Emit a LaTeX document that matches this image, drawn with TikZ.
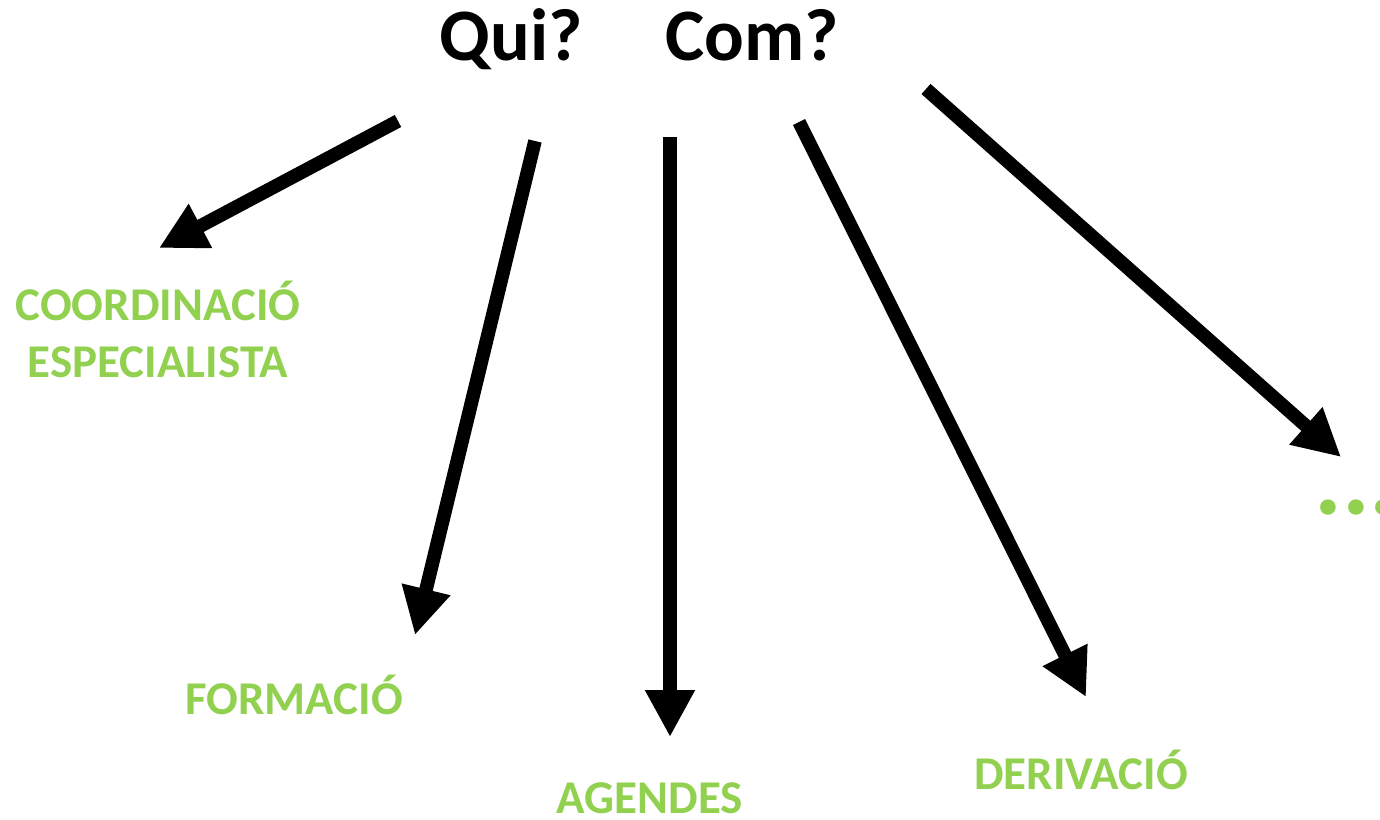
\documentclass[tikz,border=0pt]{standalone}
\usepackage{fontspec}
\setmainfont{Carlito}
\usetikzlibrary{arrows.meta}
\definecolor{leaf}{HTML}{92D050}
\definecolor{ink}{HTML}{000000}

\begin{document}
\begin{tikzpicture}[x=0.5pt,y=-0.5pt,
    question/.style={font=\bfseries\fontsize{37}{40}\selectfont, text=ink, inner sep=0pt},
    topic/.style={font=\bfseries\fontsize{23.5}{28.5}\selectfont, text=leaf, inner sep=0pt, align=center},
    branch/.style={ink, line width=6.8pt, -{Triangle[length=23.5pt,width=23.5pt]}}]
      \useasboundingbox (0,0) rectangle (1380,819);
      % questions
      \node[question, anchor=base] (qui) at (511,60) {Qui?};
      \node[question, anchor=base] (com) at (752,60) {Com?};
      % arrow ends
      \coordinate (t1) at (398,121);  \coordinate (h1) at (159,248);
      \coordinate (t2) at (535,141);  \coordinate (h2) at (415,635);
      \coordinate (t3) at (670,137);  \coordinate (h3) at (670,737);
      \coordinate (t4) at (799,122);  \coordinate (h4) at (1086,697);
      \coordinate (t5) at (926,89);   \coordinate (h5) at (1341,457);
      \draw[branch] (t1) -- (h1);
      \draw[branch] (t2) -- (h2);
      \draw[branch] (t3) -- (h3);
      \draw[branch] (t4) -- (h4);
      \draw[branch] (t5) -- (h5);
      % answers
      \node[topic] (coord) at (158,329) {COORDINACIÓ\\ESPECIALISTA};
      \node[topic, anchor=base] (form) at (294,714) {FORMACIÓ};
      \node[topic, anchor=base] (agen) at (650,813) {AGENDES};
      \node[topic, anchor=base] (deri) at (1081,789) {DERIVACIÓ};
      \node[topic, anchor=base west, font=\bfseries\fontsize{52}{54}\selectfont] (more) at (1314,514) {...};
    \end{tikzpicture}
\end{document}
